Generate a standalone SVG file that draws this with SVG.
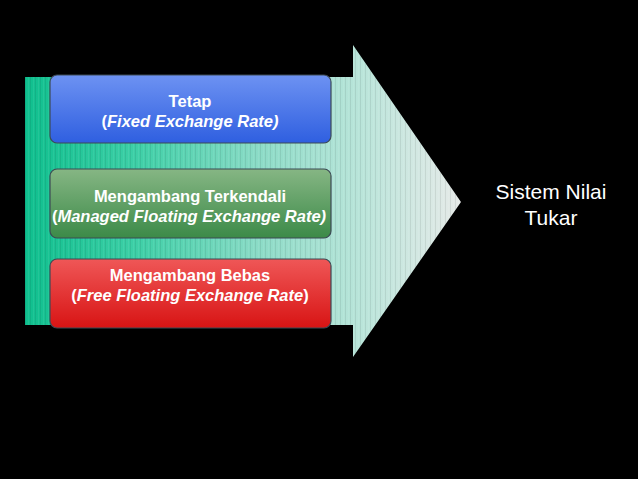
<svg xmlns="http://www.w3.org/2000/svg" width="638" height="479" viewBox="0 0 638 479">
<defs>
<linearGradient id="arrowG" x1="25" y1="0" x2="461" y2="0" gradientUnits="userSpaceOnUse">
<stop offset="0" stop-color="#0fbf8e"/>
<stop offset="0.25" stop-color="#3ccfa6"/>
<stop offset="0.55" stop-color="#8fdcc8"/>
<stop offset="0.8" stop-color="#bfe6dc"/>
<stop offset="1" stop-color="#e6eae8"/>
</linearGradient>
<pattern id="stripes" x="0" y="0" width="5" height="10" patternUnits="userSpaceOnUse">
<rect x="0" y="0" width="1" height="10" fill="#000" fill-opacity="0.08"/>
<rect x="3" y="0" width="1" height="10" fill="#fff" fill-opacity="0.06"/>
</pattern>
<linearGradient id="blueG" x1="0" y1="0" x2="0" y2="1">
<stop offset="0" stop-color="#6d92f2"/>
<stop offset="1" stop-color="#2f5fe0"/>
</linearGradient>
<linearGradient id="greenG" x1="0" y1="0" x2="0" y2="1">
<stop offset="0" stop-color="#86b684"/>
<stop offset="1" stop-color="#3c8a48"/>
</linearGradient>
<linearGradient id="redG" x1="0" y1="0" x2="0" y2="1">
<stop offset="0" stop-color="#ef5757"/>
<stop offset="1" stop-color="#d81414"/>
</linearGradient>
</defs>
<style>
.box{stroke:#3d4a55;stroke-width:1.2}
.t{font-family:"Liberation Sans",Arial,sans-serif;font-size:16.5px;font-weight:bold;fill:#ffffff;text-anchor:middle}
.i{font-style:italic}
.s{font-family:"Liberation Sans",Arial,sans-serif;font-size:21px;fill:#ffffff;text-anchor:middle}
</style>
<rect width="638" height="479" fill="#000000"/>
<g id="arrow">
<polygon points="25,77 353,77 353,45 461,202 353,357 353,325 25,325" fill="url(#arrowG)"/>
<polygon points="25,77 353,77 353,45 461,202 353,357 353,325 25,325" fill="url(#stripes)"/>
</g>
<g id="node-tetap">
<rect class="box" x="50" y="75" width="281" height="68" rx="7" fill="url(#blueG)"/>
<text class="t" x="190" y="107">Tetap</text>
<text class="t" x="190" y="127">(<tspan class="i">Fixed Exchange Rate)</tspan></text>
</g>
<g id="node-terkendali">
<rect class="box" x="50" y="169" width="281" height="69" rx="7" fill="url(#greenG)"/>
<text class="t" x="190" y="202">Mengambang Terkendali</text>
<text class="t" x="189" y="222">(<tspan class="i">Managed Floating Exchange Rate)</tspan></text>
</g>
<g id="node-bebas">
<rect class="box" x="50" y="259" width="281" height="69" rx="7" fill="url(#redG)"/>
<text class="t" x="190" y="281">Mengambang Bebas</text>
<text class="t" x="190" y="301">(<tspan class="i">Free Floating Exchange Rate</tspan>)</text>
</g>
<g id="node-sistem">
<text class="s" x="551" y="199">Sistem Nilai</text>
<text class="s" x="551" y="225">Tukar</text>
</g>
<g id="connectors"></g>
</svg>
